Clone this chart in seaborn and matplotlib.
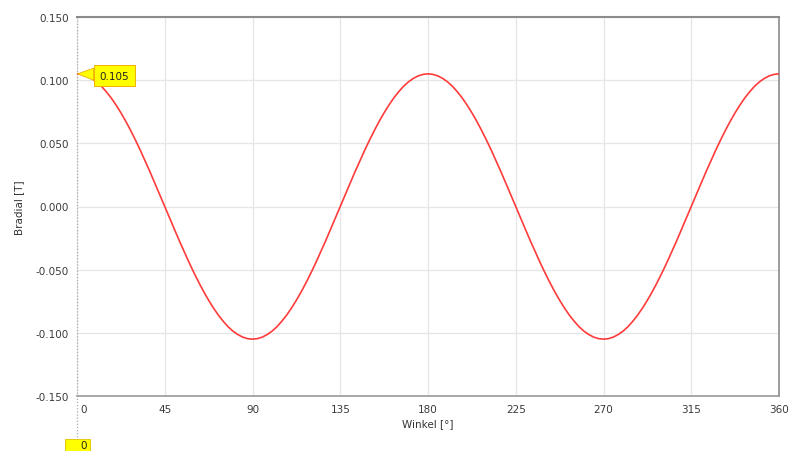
import matplotlib
matplotlib.use("Agg")
import matplotlib.pyplot as plt
import matplotlib.transforms as mtransforms
import seaborn as sns
import pandas as pd
from matplotlib.patches import Polygon, Rectangle

sns.set_style("white")
plt.rcParams['font.family'] = ['DejaVu Sans']

angles = [i * 2.5 for i in range(145)]
first_half = [0.1050, 0.1046, 0.1034, 0.1014, 0.0987, 0.0952, 0.0909, 0.0860, 0.0804,
              0.0742, 0.0675, 0.0602, 0.0525, 0.0444, 0.0359, 0.0272, 0.0182, 0.0092,
              0.0000,
              -0.0092, -0.0182, -0.0272, -0.0359, -0.0444, -0.0525, -0.0602, -0.0675,
              -0.0742, -0.0804, -0.0860, -0.0909, -0.0952, -0.0987, -0.1014, -0.1034,
              -0.1046, -0.1050]
second_half = first_half[::-1][1:]
b_radial = first_half + second_half + first_half[1:] + second_half
x_ticks = [0, 45, 90, 135, 180, 225, 270, 315, 360]
y_ticks = [-0.150, -0.100, -0.050, 0.000, 0.050, 0.100, 0.150]
marker_label = "0.105"
cursor_label = "0"

df = pd.DataFrame({"Winkel": angles, "Bradial": b_radial})

W, H = 801, 452
fig = plt.figure(figsize=(W / 100, H / 100), dpi=100)
ax = fig.add_axes([77 / W, 1 - 397 / H, (779 - 77) / W, (397 - 18) / H])

ax.set_xlim(0, 360)
ax.set_ylim(-0.150, 0.150)
ax.set_xticks(x_ticks)
ax.set_yticks(y_ticks)
ax.set_xticklabels([str(t) for t in x_ticks])
ax.set_yticklabels([f"{t:.3f}" for t in y_ticks])
ax.grid(True, color="#e6e6e6", linewidth=0.9)
ax.set_axisbelow(True)

sns.lineplot(data=df, x="Winkel", y="Bradial", ax=ax, color="#ff3b3b",
             linewidth=1.2, zorder=3)

ax.tick_params(axis="both", which="both", labelsize=7.5, labelcolor="#3a3a3a",
               color="#808080", length=4, width=0.8, direction="out", pad=2)
first_lab = ax.get_xticklabels()[0]
first_lab.set_ha("left")
first_lab.set_transform(first_lab.get_transform() +
                        mtransforms.ScaledTranslation(3 / 100, 0, fig.dpi_scale_trans))

ax.spines["top"].set_color("#8c8c8c")
ax.spines["top"].set_linewidth(1.5)
ax.spines["right"].set_color("#8c8c8c")
ax.spines["right"].set_linewidth(1.2)
ax.spines["bottom"].set_color("#9a9a9a")
ax.spines["bottom"].set_linewidth(1.2)
ax.spines["left"].set_visible(False)

# dotted cursor line at x=0 extending below the axis
trans = ax.get_xaxis_transform()
ax.plot([0, 0], [1, -0.12], transform=trans, color="#aaaaaa",
        linestyle=(0, (1, 1.5)), linewidth=0.9, clip_on=False, zorder=2)

ax.set_xlabel("Winkel [°]", fontsize=7.5, color="#333333", labelpad=3)
ax.set_ylabel("Bradial [T]", fontsize=7.5, color="#333333", labelpad=8)

# yellow callout at maximum
ax.annotate(marker_label, xy=(0, 0.105), xytext=(11.5, 0.1035),
            fontsize=7.5, color="#222222", va="center", ha="left",
            bbox=dict(boxstyle="square,pad=0.55", fc="#ffff00", ec="#f0b000", lw=0.7),
            zorder=5)
tri = Polygon([[0.3, 0.105], [8.5, 0.1095], [8.5, 0.1000]], closed=True,
              fc="#ffff00", ec="#f0b000", lw=0.6, zorder=4)
ax.add_patch(tri)

# bottom cursor value box at the figure edge
fig.patches.append(Rectangle((65 / W, 1 - 460 / H), 25 / W, 20 / H,
                             transform=fig.transFigure, fc="#ffff00", ec="#e0c000",
                             lw=0.6))
fig.text(84 / W, 1 - 446 / H, cursor_label, fontsize=7.5, color="#222222",
         ha="center", va="center")

fig.savefig("out.png", dpi=100)
